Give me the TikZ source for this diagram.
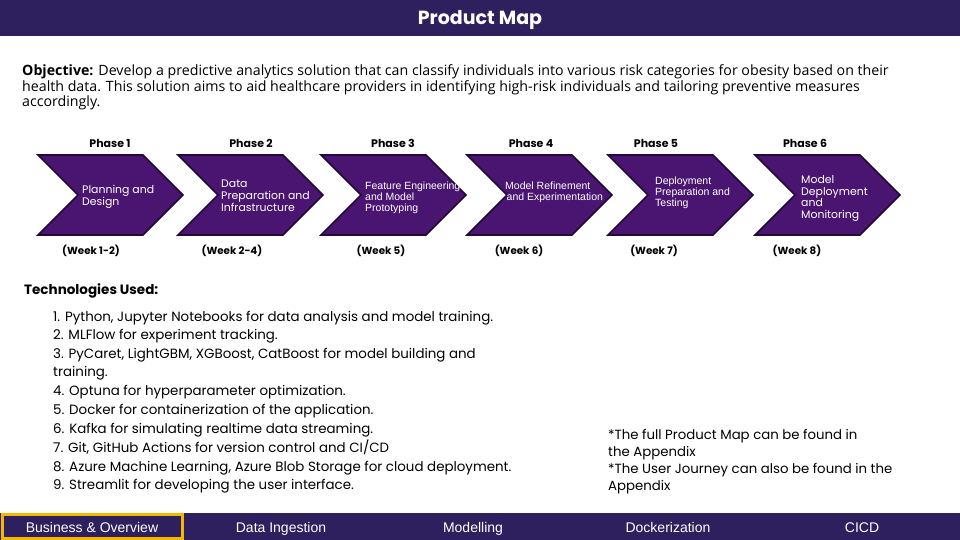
\documentclass[tikz,border=0pt]{standalone}
\usepackage{fontspec}
\setmainfont{Poppins}
\newfontfamily\objfont{Open Sans}
\newfontfamily\arialfont{Liberation Sans}
\definecolor{barpurple}{HTML}{2E1F5E}
\definecolor{chevfill}{HTML}{4A1571}
\definecolor{chevedge}{HTML}{22093A}
\definecolor{tabgold}{HTML}{F5B800}
\begin{document}
\begin{tikzpicture}[x=1pt,y=-1pt,
  fixline/.style={text height=0.72em,text depth=0.22em,yshift=-2.5pt},
  chev/.style={fill=chevfill,draw=chevedge,line width=1.6pt,line join=miter},
  chevtext/.style={text=white,anchor=west,align=left,inner sep=0pt,font=\fontsize{10.9}{11.8}\selectfont},
  chevtextarial/.style={chevtext,font=\arialfont\fontsize{10.5}{10.8}\selectfont},
  phaselabel/.style={fixline,font=\bfseries\fontsize{11}{12}\selectfont,inner sep=0pt},
  weeklabel/.style={fixline,font=\bfseries\fontsize{10.3}{12}\selectfont,inner sep=0pt},
  tablabel/.style={fixline,text=white,font=\arialfont\fontsize{14}{16}\selectfont,inner sep=0pt},
  listline/.style={fixline,anchor=west,inner sep=0pt,font=\fontsize{13.4}{15}\selectfont},
  noteline/.style={fixline,anchor=west,inner sep=0pt,font=\fontsize{13.3}{15}\selectfont},
  objline/.style={fixline,anchor=west,inner sep=0pt,font=\objfont\fontsize{14.2}{16}\selectfont}]
\path[use as bounding box] (0,0) rectangle (960,540);

% header bar
\fill[barpurple] (0,0) rectangle (960,36);
\node[fixline,text=white,font=\bfseries\fontsize{19}{21}\selectfont,inner sep=0pt] (title) at (480,19.5) {Product Map};

% objective paragraph
\node[objline] (obj1) at (22,71) {\textbf{Objective:} Develop a predictive analytics solution that can classify individuals into various risk categories for obesity based on their};
\node[objline] (obj2) at (22,87) {health data. This solution aims to aid healthcare providers in identifying high-risk individuals and tailoring preventive measures};
\node[objline] (obj3) at (22,102) {accordingly.};

% phase chevrons
\foreach \x/\n in {38/1,178/2,321/3,467/4,608/5,755/6}{
  \draw[chev] (\x,155) -- ++(105,0) -- ++(40,40) -- ++(-40,40) -- ++(-105,0) -- ++(40,-40) -- cycle;
  \coordinate (c\n) at (\x+72,195);
}

% phase titles
\node[phaselabel] (ph1) at (110,143) {Phase 1};
\node[phaselabel] (ph2) at (251,143) {Phase 2};
\node[phaselabel] (ph3) at (393,143) {Phase 3};
\node[phaselabel] (ph4) at (531,143) {Phase 4};
\node[phaselabel] (ph5) at (656,143) {Phase 5};
\node[phaselabel] (ph6) at (805,143) {Phase 6};

% chevron captions
\node[chevtext] (t1) at (82,197) {Planning and\\Design};
\node[chevtext] (t2) at (221,196) {Data\\Preparation and\\Infrastructure};
\node[chevtextarial] (t3) at (365,198) {Feature Engineering\\and Model\\Prototyping};
\node[chevtextarial] (t4) at (505,192.5) {Model Refinement\\\hspace*{1.5pt}and Experimentation};
\node[chevtextarial] (t5) at (655,193) {Deployment\\Preparation and\\Testing};
\node[chevtext] (t6) at (801,198.5) {Model\\Deployment\\and\\Monitoring};

% schedule
\node[weeklabel] (w1) at (91,249) {(Week 1-2)};
\node[weeklabel] (w2) at (232,249) {(Week 2-4)};
\node[weeklabel] (w3) at (381,249) {(Week 5)};
\node[weeklabel] (w4) at (519,249) {(Week 6)};
\node[weeklabel] (w5) at (654,249) {(Week 7)};
\node[weeklabel] (w6) at (797,249) {(Week 8)};

% technologies
\node[fixline,anchor=west,inner sep=0pt,font=\bfseries\fontsize{13.5}{15}\selectfont] (tech) at (24,289) {Technologies Used:};
\node[listline] (l1) at (53,316) {1. Python, Jupyter Notebooks for data analysis and model training.};
\node[listline] (l2) at (53,334.5) {2. MLFlow for experiment tracking.};
\node[listline] (l3) at (53,353) {3. PyCaret, LightGBM, XGBoost, CatBoost for model building and};
\node[listline] (l3b) at (53,371.5) {training.};
\node[listline] (l4) at (53,390) {4. Optuna for hyperparameter optimization.};
\node[listline] (l5) at (53,409) {5. Docker for containerization of the application.};
\node[listline] (l6) at (53,428) {6. Kafka for simulating realtime data streaming.};
\node[listline] (l7) at (53,447) {7. Git, GitHub Actions for version control and CI/CD};
\node[listline] (l8) at (53,466) {8. Azure Machine Learning, Azure Blob Storage for cloud deployment.};
\node[listline] (l9) at (53,484.5) {9. Streamlit for developing the user interface.};

% notes
\node[noteline] (n1) at (608,434) {*The full Product Map can be found in};
\node[noteline] (n2) at (608,451) {the Appendix};
\node[noteline] (n3) at (608,468) {*The User Journey can also be found in the};
\node[noteline] (n4) at (608,485) {Appendix};

% bottom navigation bar
\fill[barpurple] (0,513) rectangle (960,540);
\draw[tabgold,line width=3pt] (2.5,514.5) rectangle (182.5,538.5);
\node[tablabel] (tab1) at (92,527) {Business \& Overview};
\node[tablabel] (tab2) at (281,527) {Data Ingestion};
\node[tablabel] (tab3) at (473,527) {Modelling};
\node[tablabel] (tab4) at (668,527) {Dockerization};
\node[tablabel] (tab5) at (862,527) {CICD};
\end{tikzpicture}
\end{document}
